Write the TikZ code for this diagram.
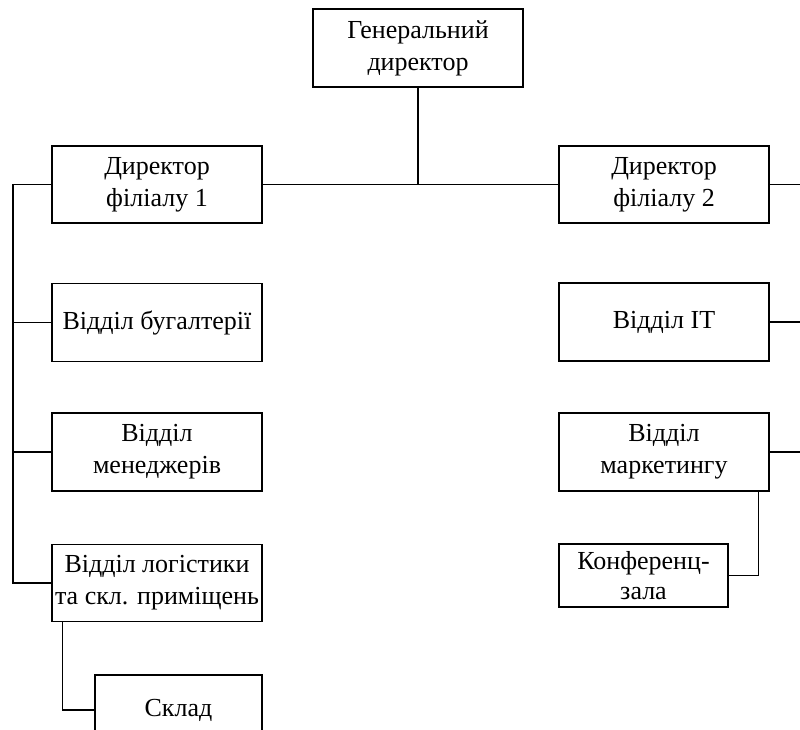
\documentclass[tikz,border=0pt]{standalone}
\usepackage{fontspec}
\setmainfont{Liberation Serif}
\begin{document}
\begin{tikzpicture}[x=1pt,y=-1pt,
  unit/.style={draw, line width=1.3pt, align=center, inner sep=0pt,
    font=\fontsize{26}{32}\selectfont},
  link/.style={line width=1.3pt}]
\useasboundingbox (0,0) rectangle (800,730);
\begin{scope}
\clip (0,0) rectangle (800,730);
% top level
\node[unit, minimum width=210, minimum height=78] (gen) at (418,48) {Генеральний\\директор};
% branch 1 (left column)
\node[unit, minimum width=210, minimum height=77] (d1) at (157,184.5) {Директор\\філіалу 1};
\node[unit, minimum width=210, minimum height=78] (buh) at (157,322.5) {Відділ бугалтерії};
\node[unit, minimum width=210, minimum height=78] (men) at (157,452) {Відділ\\менеджерів};
\node[unit, minimum width=210, minimum height=77] (log) at (157,583) {Відділ логістики\\та скл. приміщень};
\node[unit, minimum width=167, minimum height=70] (skl) at (178.5,710) {Склад};
% branch 2 (right column)
\node[unit, minimum width=210, minimum height=77] (d2) at (664,184.5) {Директор\\філіалу 2};
\node[unit, minimum width=210, minimum height=78] (it) at (664,322) {Відділ ІТ};
\node[unit, minimum width=210, minimum height=78] (mkt) at (664,452) {Відділ\\маркетингу};
\node[unit, minimum width=169, minimum height=63, font=\fontsize{26}{30}\selectfont] (konf) at (643.5,575.5) {Конференц-\\зала};
% trunk and bus lines
\coordinate (bus) at (418,184);
\coordinate (lx) at (13,0);
\coordinate (rx) at (800,0);
\draw[link] (gen.south) -- (bus);
\draw[link] (d1.east) -- (d2.west);
\draw[link] (d1.west) -- (lx |- d1.west) -- (lx |- log.west) -- (log.west);
\draw[link] (buh.west) -- (lx |- buh.west);
\draw[link] (men.west) -- (lx |- men.west);
\draw[link] (d2.east) -- (rx |- d2.east);
\draw[link] (it.east) -- (rx |- it.east);
\draw[link] (mkt.east) -- (rx |- mkt.east);
\draw[link] (log.south west) ++(11,0) coordinate (lg) -- (lg |- skl.west) -- (skl.west);
\draw[link] (mkt.south east) ++(-11,0) coordinate (mk) -- (mk |- konf.east) -- (konf.east);
\end{scope}
\end{tikzpicture}
\end{document}
